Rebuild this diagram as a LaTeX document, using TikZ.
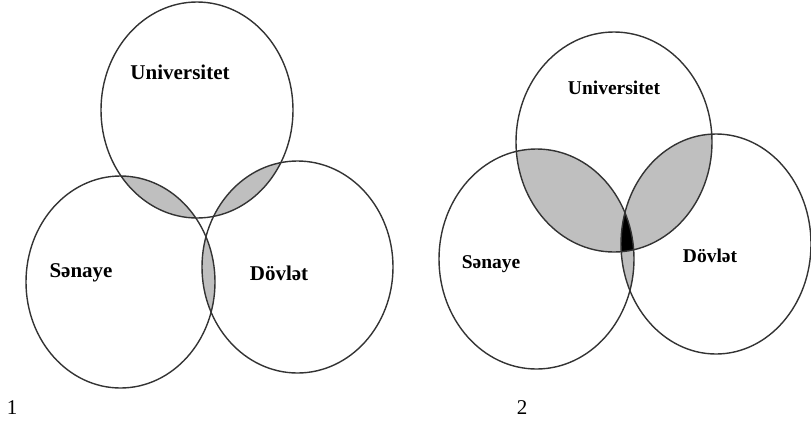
\documentclass[tikz,border=0pt]{standalone}
\usepackage{fontspec}
\setmainfont{Liberation Serif}
\tikzset{ring/.style={line width=1.4pt,black!80},
         lap/.style={fill=black!25},
         lbl/.style={font=\bfseries\fontsize{21}{24}\selectfont},
         num/.style={font=\fontsize{21}{24}\selectfont}}
% ellipses of both diagrams (pixel units)
\newcommand\UniA{(197,110) ellipse [x radius=96,y radius=108]}
\newcommand\SenA{(120.5,282) ellipse [x radius=94.5,y radius=106]}
\newcommand\DovA{(297.5,267) ellipse [x radius=95.5,y radius=106]}
\newcommand\UniB{(614,142) ellipse [x radius=98,y radius=110]}
\newcommand\SenB{(536.5,259) ellipse [x radius=97.5,y radius=110]}
\newcommand\DovB{(716,244) ellipse [x radius=95,y radius=110]}

\begin{document}
\begin{tikzpicture}[x=1pt,y=-1pt]
  \useasboundingbox (0,0) rectangle (811,424);
  % 1
  \begin{scope} \clip \UniA; \fill[lap] \SenA; \fill[lap] \DovA; \end{scope}
  \begin{scope} \clip \SenA; \fill[lap] \DovA; \end{scope}
  \draw[ring] \UniA; \draw[ring] \SenA; \draw[ring] \DovA;
  \node[lbl] (uni1) at (180,72) {Universitet};
  \node[lbl] (sen1) at (81,273) {Sənaye};
  \node[lbl] (dov1) at (279,273) {Dövlət};
  \node[num] (n1) at (12,408) {1};
  % 2
  \begin{scope} \clip \UniB; \fill[lap] \SenB; \fill[lap] \DovB; \end{scope}
  \begin{scope} \clip \SenB; \fill[lap] \DovB; \end{scope}
  \begin{scope} \clip \UniB; \clip \SenB; \fill[black] \DovB; \end{scope}
  \draw[ring] \UniB; \draw[ring] \SenB; \draw[ring] \DovB;
  \begin{scope}[lbl/.append style={font=\bfseries\fontsize{19.5}{23}\selectfont}]
    \node[lbl] (uni2) at (614,88) {Universitet};
    \node[lbl] (sen2) at (491,264) {Sənaye};
    \node[lbl] (dov2) at (710,256) {Dövlət};
  \end{scope}
  \node[num] (n2) at (522,408) {2};
\end{tikzpicture}
\end{document}
